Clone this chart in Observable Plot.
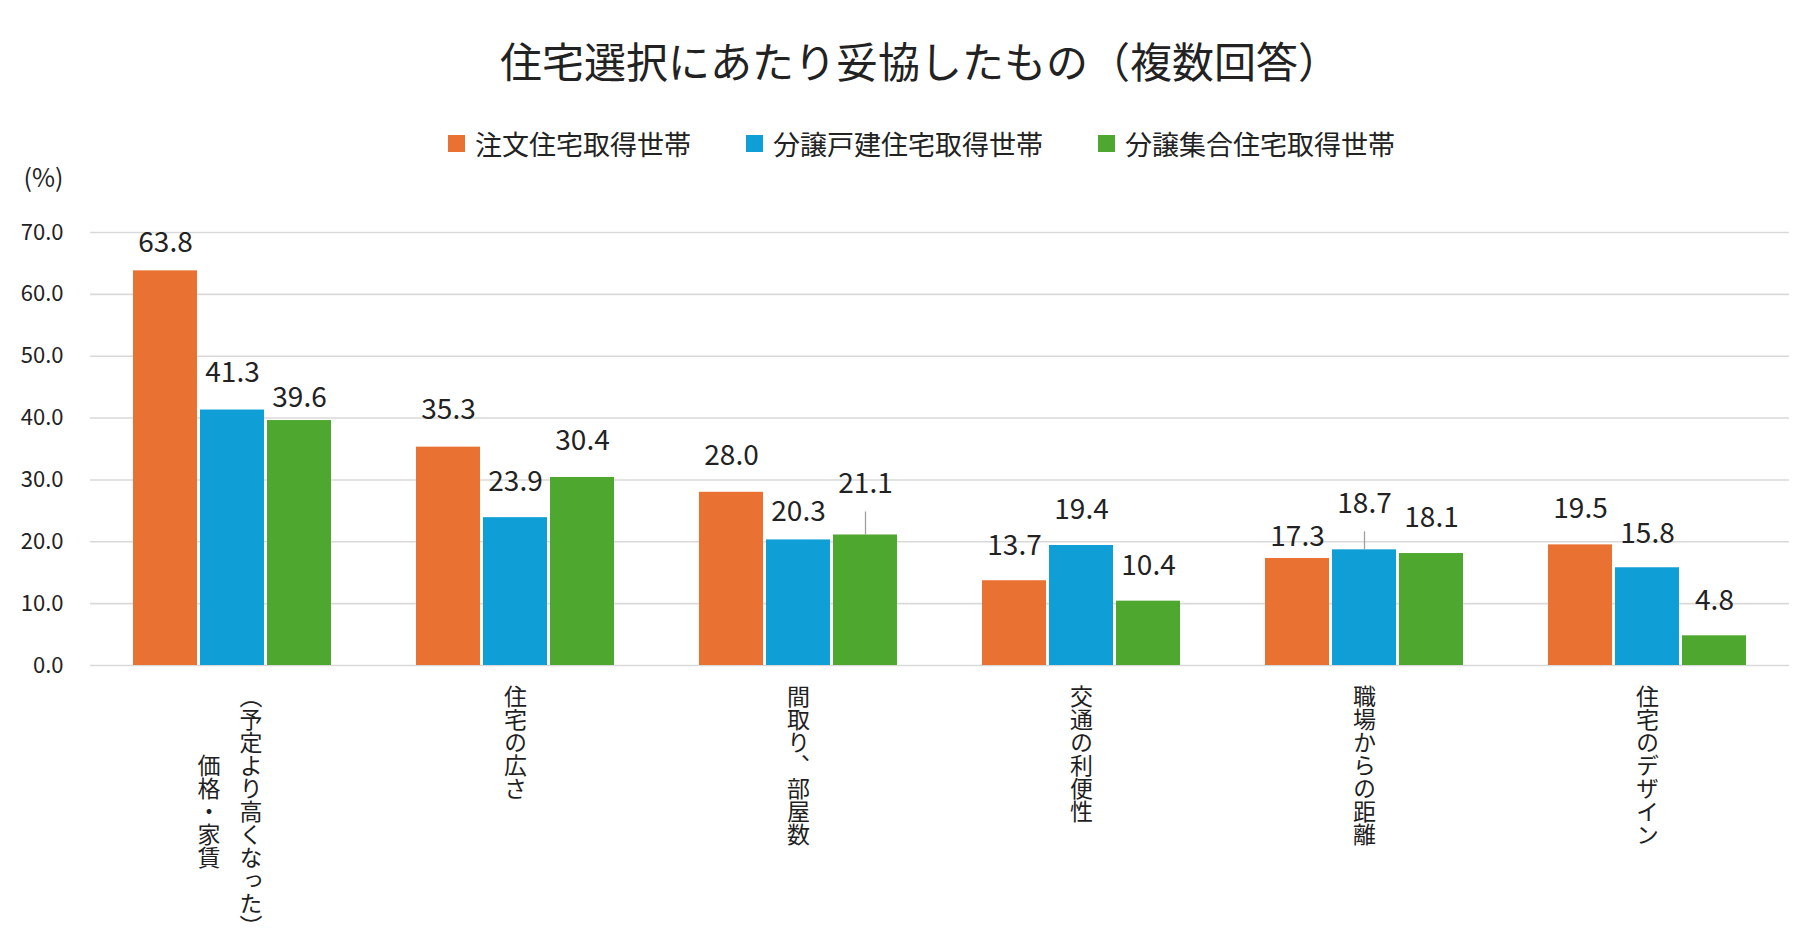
<!DOCTYPE html>
<html><head><meta charset="utf-8">
<script src="https://cdn.jsdelivr.net/npm/d3@7"></script>
<script src="https://cdn.jsdelivr.net/npm/@observablehq/plot@0.6"></script>
<style>
body{margin:0;background:#fff;font-family:"Noto Sans CJK JP",sans-serif;color:#222;}
#wrap{width:1800px;}
#title{height:120px;line-height:120px;text-align:center;font-size:42px;padding-left:40px;box-sizing:border-box;}
#legend{height:46px;display:flex;align-items:center;padding-left:448px;font-size:27px;}
.item{display:flex;align-items:center;margin-right:55px;}
.sw{width:17px;height:17px;margin-right:10px;}
</style></head><body>
<div id="wrap">
  <div id="title">住宅選択にあたり妥協したもの（複数回答）</div>
  <div id="legend"></div>
  <div id="chart"></div>
</div>
<script>
// ---- data ----
const categories = ["価格・家賃（予定より高くなった）", "住宅の広さ", "間取り、部屋数", "交通の利便性", "職場からの距離", "住宅のデザイン"];
const categoryLines = [["価格・家賃", "（予定より高くなった）"], ["住宅の広さ"], ["間取り、部屋数"], ["交通の利便性"], ["職場からの距離"], ["住宅のデザイン"]];
const seriesNames = ["注文住宅取得世帯", "分譲戸建住宅取得世帯", "分譲集合住宅取得世帯"];
const chumon = [63.8, 35.3, 28.0, 13.7, 17.3, 19.5];
const bunjoKodate = [41.3, 23.9, 20.3, 19.4, 18.7, 15.8];
const bunjoShugo = [39.6, 30.4, 21.1, 10.4, 18.1, 4.8];
const yTicks = [0, 10, 20, 30, 40, 50, 60, 70];

// ---- style ----
const colors = ["#E97132", "#0F9ED5", "#4EA72E"];
const labelLift = [
  [28, 37, 36, 35, 21, 36],
  [37, 36, 28, 35, 46, 34],
  [23, 36, 51, 35, 36, 35]
];
const leaderStyle = [{si: 2, ci: 2, px: 23}, {si: 1, ci: 4, px: 18}];
const W = 1800, H = 784, mTop = 66, mBottom = 285, mLeft = 90, mRight = 11;
const step = 67;
const pxPerUnit = (H - mTop - mBottom) / 70;
const catFill = "#1f1f1f";

// legend
const legend = document.getElementById("legend");
seriesNames.forEach((s, i) => {
  const it = document.createElement("div"); it.className = "item";
  const sw = document.createElement("div"); sw.className = "sw"; sw.style.background = colors[i];
  const t = document.createElement("span"); t.textContent = s;
  it.appendChild(sw); it.appendChild(t); legend.appendChild(it);
});

const seriesValues = [chumon, bunjoKodate, bunjoShugo];
const rows = [];
seriesValues.forEach((vals, si) => vals.forEach((v, ci) => rows.push({category: categories[ci], series: seriesNames[si], si, ci, value: v})));

const catRows = [];
categoryLines.forEach((lines, ci) => {
  const maxLen = d3.max(lines, l => l.length);
  lines.forEach((line, li) => catRows.push({category: categories[ci], line, li, n: lines.length, maxLen}));
});

const marks = [
  Plot.ruleY(yTicks, {y: d => d, stroke: "#d9d9d9", strokeWidth: 1.6}),
  ...seriesNames.map((s, si) => Plot.barY(rows.filter(r => r.si === si), {
    x: "category", y: "value", fill: colors[si], insetLeft: si * step, insetRight: (2 - si) * step
  })),
  ...leaderStyle.map(l => Plot.ruleX(rows.filter(r => r.si === l.si && r.ci === l.ci), {
    x: "category", y1: "value", y2: d => d.value + l.px / pxPerUnit, dx: (l.si - 1) * step,
    stroke: "#a0a0a0", strokeWidth: 1.3
  })),
  ...rows.map(r => Plot.text([r], {
    x: "category", y: "value", text: d => d.value.toFixed(1), dx: (r.si - 1) * step,
    dy: -labelLift[r.si][r.ci], fontSize: 28, fill: "#222"
  })),
  Plot.text(yTicks, {y: d => d, frameAnchor: "left", textAnchor: "end", dx: -27, text: d => d.toFixed(1), fontSize: 22, fill: "#222"}),
  Plot.text(["(%)"], {frameAnchor: "top-left", textAnchor: "end", dx: -27, dy: -63, text: d => d, fontSize: 25, fill: "#222"}),
  ...catRows.map(r => Plot.text([r], {
    x: "category", text: "line", frameAnchor: "bottom", textAnchor: "middle", lineAnchor: "bottom",
    dx: (r.li - (r.n - 1) / 2) * 42 - (r.n > 1 ? 2.5 : 0), dy: 19 + r.maxLen * 23 / 2,
    fontSize: 23, fill: catFill
  }))
];

const svg = Plot.plot({
  width: W, height: H,
  marginTop: mTop, marginBottom: mBottom, marginLeft: mLeft, marginRight: mRight,
  style: {fontFamily: '"Noto Sans CJK JP", sans-serif', background: "white", color: "#222", overflow: "visible"},
  x: {domain: categories, paddingInner: 0.3, paddingOuter: 0.15, axis: null},
  y: {domain: [0, 70], axis: null},
  marks
});
svg.querySelectorAll(`g[fill="${catFill}"] text`).forEach(t => {
  t.setAttribute("writing-mode", "vertical-rl");
  t.style.writingMode = "vertical-rl";
  t.style.textOrientation = "mixed";
  t.removeAttribute("y");
});
document.getElementById("chart").appendChild(svg);
</script>
</body></html>
